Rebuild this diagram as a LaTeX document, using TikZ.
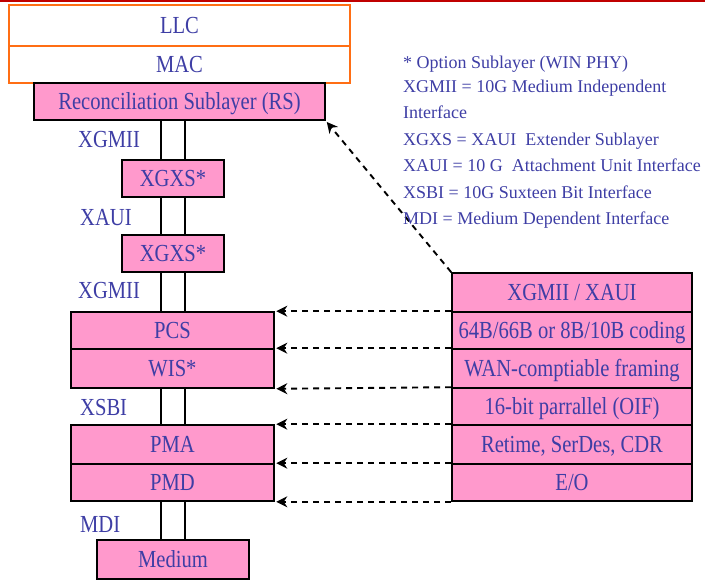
\documentclass[tikz,border=0pt]{standalone}
\usepackage{fontspec}
\setmainfont{Liberation Serif}
\newfontfamily\boxfont[FakeStretch=0.84]{Liberation Serif}
\usetikzlibrary{arrows.meta}
\definecolor{txtblue}{RGB}{62,62,165}
\definecolor{pinkfill}{RGB}{255,153,204}
\definecolor{orangeline}{RGB}{255,110,20}
\definecolor{redline}{RGB}{192,0,0}
\tikzset{
  layer/.style={draw=black, line width=1.6pt, fill=pinkfill, inner sep=0pt,
    text=txtblue, font=\boxfont\fontsize{24.5}{28}\selectfont,
    text height=16.5pt, text depth=0pt, anchor=center},
  toplayer/.style={layer, draw=orangeline, fill=white, line width=1.8pt},
  iflabel/.style={text=txtblue, font=\boxfont\fontsize{24.5}{28}\selectfont, inner sep=0pt, anchor=base west},
  legend/.style={text=txtblue, font=\fontsize{18}{22}\selectfont, inner sep=0pt, anchor=base west},
  bus/.style={line width=1.6pt},
  ctrl/.style={line width=1.9pt, dash pattern=on 6pt off 5pt, -{Stealth[length=11pt,width=11pt]}, shorten >=1.5pt}
}
\begin{document}
\begin{tikzpicture}[x=1pt,y=-1pt]
\useasboundingbox (0,0) rectangle (705,580);
\fill[redline] (0,0) rectangle (705,2.5);
% left stack
\node[toplayer, minimum width=341pt, minimum height=41pt] (LLC) at (179.5,25.5) {LLC};
\node[toplayer, minimum width=341pt, minimum height=37pt] (MAC) at (179.5,64.5) {MAC};
\node[layer, minimum width=291pt, minimum height=37pt] (RS) at (179.5,101.5) {Reconciliation Sublayer (RS)};
\node[layer, minimum width=102pt, minimum height=37pt] (X1) at (173,178.5) {XGXS*};
\node[layer, minimum width=102pt, minimum height=37pt] (X2) at (173,253.5) {XGXS*};
\node[layer, minimum width=203pt, minimum height=37pt] (PCS) at (172.5,330.5) {PCS};
\node[layer, minimum width=203pt, minimum height=39pt] (WIS) at (172.5,368.5) {WIS*};
\node[layer, minimum width=203pt, minimum height=39pt] (PMA) at (172.5,444.5) {PMA};
\node[layer, minimum width=203pt, minimum height=37pt] (PMD) at (172.5,482.5) {PMD};
\node[layer, minimum width=152pt, minimum height=39pt] (MED) at (173,559.5) {Medium};
% buses
\coordinate (la) at (161,0);
\coordinate (lb) at (185,0);
\foreach \a/\b in {RS/X1, X1/X2, X2/PCS, WIS/PMA, PMD/MED}{
  \draw[bus] (\a.south -| la) -- (\b.north -| la);
  \draw[bus] (\a.south -| lb) -- (\b.north -| lb);
}
% interface labels
\node[iflabel] (L1) at (78,148) {XGMII};
\node[iflabel] (L2) at (80,226) {XAUI};
\node[iflabel] (L3) at (78,299) {XGMII};
\node[iflabel] (L4) at (80,415) {XSBI};
\node[iflabel] (L5) at (80,532) {MDI};
% right table
\node[layer, minimum width=240pt, minimum height=39pt] (R1) at (572,292.5) {XGMII / XAUI};
\node[layer, minimum width=240pt, minimum height=37pt] (R2) at (572,330.5) {64B/66B or 8B/10B coding};
\node[layer, minimum width=240pt, minimum height=39pt] (R3) at (572,368.5) {WAN-comptiable framing};
\node[layer, minimum width=240pt, minimum height=37pt] (R4) at (572,406.5) {16-bit parrallel (OIF)};
\node[layer, minimum width=240pt, minimum height=39pt] (R5) at (572,444.5) {Retime, SerDes, CDR};
\node[layer, minimum width=240pt, minimum height=37pt] (R6) at (572,482.5) {E/O};
% arrows
\draw[ctrl] (R1.north west) -- (RS.south east);
\draw[ctrl] (R2.north west) -- (PCS.north east);
\draw[ctrl] (R3.north west) -- (WIS.north east);
\draw[ctrl] (R4.north west) -- (WIS.south east);
\draw[ctrl] (R5.north west) -- (PMA.north east);
\draw[ctrl] (R6.north west) -- (PMD.north east);
\draw[ctrl] (R6.south west) -- (PMD.south east);
% legend
\node[legend] (G1) at (403,69) {* Option Sublayer (WIN PHY)};
\node[legend] (G2) at (403,93) {XGMII = 10G Medium Independent};
\node[legend] (G3) at (403,119) {Interface};
\node[legend] (G4) at (403,146) {XGXS = XAUI\ \ Extender Sublayer};
\node[legend] (G5) at (403,172) {XAUI = 10 G\ \ Attachment Unit Interface};
\node[legend] (G6) at (403,199) {XSBI = 10G Suxteen Bit Interface};
\node[legend] (G7) at (403,225) {MDI = Medium Dependent Interface};
\end{tikzpicture}
\end{document}
